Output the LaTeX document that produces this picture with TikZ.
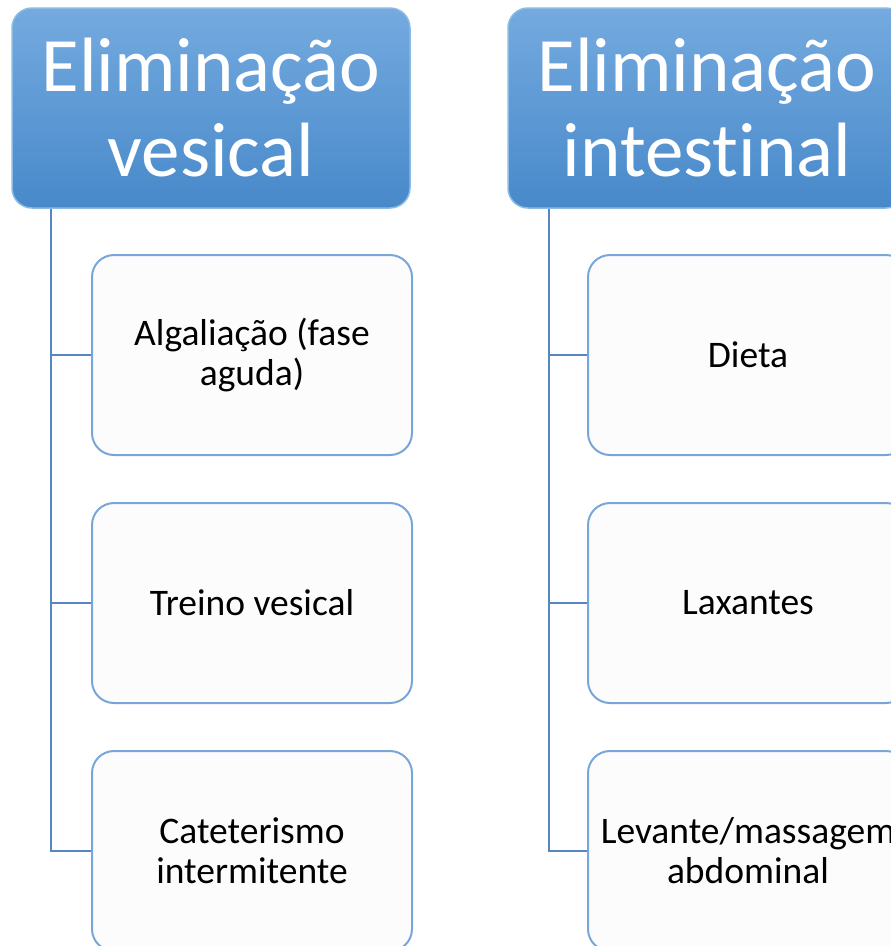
\documentclass[tikz,border=0pt]{standalone}
\usepackage{fontspec}
\setmainfont[Ligatures=NoCommon]{Carlito}
\definecolor{hdrtop}{HTML}{74AADF}
\definecolor{hdrbot}{HTML}{4889CA}
\definecolor{hdrline}{HTML}{8CBBE6}
\definecolor{itemline}{HTML}{78A6D9}
\definecolor{itemfill}{HTML}{FCFCFC}
\definecolor{linkcol}{HTML}{5886BE}
\begin{document}
\begin{tikzpicture}[x=1pt,y=-1pt,
    header/.style={rounded corners=20pt, minimum width=398pt, minimum height=200pt,
        top color=hdrtop, bottom color=hdrbot, draw=hdrline, line width=1.5pt,
        text=white, align=center, inner sep=0pt,
        font=\fontsize{77}{85}\selectfont},
    item/.style={rounded corners=22pt, minimum width=320pt, minimum height=200pt,
        fill=itemfill, draw=itemline, line width=2pt, align=center, inner sep=0pt,
        font=\fontsize{37.5}{40}\selectfont},
    link/.style={draw=linkcol, line width=2pt}]
    \clip (0,0) rectangle (891,946);
    \fill[white] (0,0) rectangle (891,946);

    % Headers
    \node[header] (hdrA) at (211,108) {Eliminação\\vesical};
    \node[header] (hdrB) at (707,108) {Eliminação\\intestinal};

    % Items
    \node[item] (a1) at (252,355) {Algaliação (fase\\aguda)};
    \node[item] (a2) at (252,603) {Treino vesical};
    \node[item] (a3) at (252,851) {Cateterismo\\intermitente};
    \node[item] (b1) at (748,355) {Dieta};
    \node[item] (b2) at (748,603) {Laxantes};
    \node[item] (b3) at (748,851) {Levante/massagem\\abdominal};

    % Connectors
    \foreach \i in {1,2,3} {
        \draw[link] (hdrA.south west) ++(40,0) |- (a\i.west);
        \draw[link] (hdrB.south west) ++(42,0) |- (b\i.west);
    }
\end{tikzpicture}
\end{document}
